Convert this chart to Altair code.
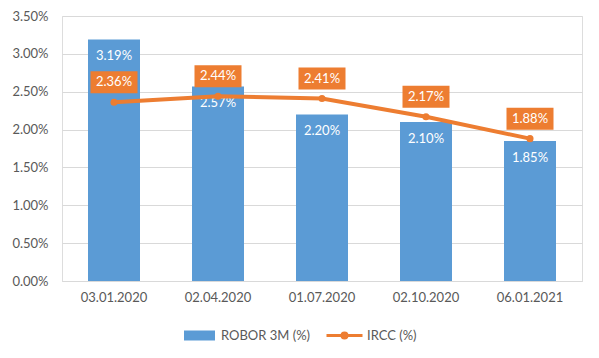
import altair as alt
import pandas as pd

dates = ["03.01.2020", "02.04.2020", "01.07.2020", "02.10.2020", "06.01.2021"]
robor = [3.19, 2.57, 2.20, 2.10, 1.85]
ircc = [2.36, 2.44, 2.41, 2.17, 1.88]
y_ticks = [0, 0.5, 1.0, 1.5, 2.0, 2.5, 3.0, 3.5]

BLUE = "#5B9BD5"
ORANGE = "#ED7D31"
GRAY = "#595959"
FONT = "Lato"

df = pd.DataFrame({
    "date": dates,
    "robor": robor,
    "ircc": ircc,
    "robor_lbl": [f"{v:.2f}%" for v in robor],
    "ircc_lbl": [f"{v:.2f}%" for v in ircc],
    "s1": "ROBOR 3M (%)",
    "s2": "IRCC (%)",
})

xaxis = alt.Axis(labelAngle=0, ticks=False, domain=True, domainColor="#D9D9D9",
                 labelPadding=10, labelColor=GRAY, labelFont=FONT, labelFontSize=13,
                 grid=False, title=None)
xscale = alt.Scale(paddingInner=0.5, paddingOuter=0.25)
xenc = alt.X("date:N", sort=dates, title=None, scale=xscale, axis=xaxis)
yscale = alt.Scale(domain=[0, 3.5], nice=False, zero=True)
yaxis = alt.Axis(values=y_ticks, labelExpr="format(datum.value, '.2f') + '%'",
                 ticks=False, domain=False, gridColor="#D9D9D9", labelPadding=14,
                 labelColor=GRAY, labelFont=FONT, labelFontSize=13, title=None,
                 labelOverlap=False, tickCount=8)


def yenc(field):
    return alt.Y(f"{field}:Q", scale=yscale, axis=yaxis, title=None)


base = alt.Chart(df)

bars = base.mark_bar(color=BLUE).encode(
    x=xenc,
    y=yenc("robor"),
    fill=alt.Fill("s1:N", scale=alt.Scale(range=[BLUE]),
                  legend=alt.Legend(title=None, orient="none", legendX=131, legendY=313,
                                    symbolType="M-3.1,-1H3.1V1H-3.1Z", symbolSize=100,
                                    labelFont=FONT, labelFontSize=13, labelColor=GRAY,
                                    labelOffset=15, symbolStrokeWidth=0)),
)

bar_text = base.mark_text(color="white", font=FONT, fontSize=13, dy=17, baseline="middle").encode(
    x=xenc,
    y=yenc("robor"),
    text="robor_lbl:N",
)

line = base.mark_line(strokeWidth=4, color=ORANGE).encode(
    x=xenc,
    y=yenc("ircc"),
    stroke=alt.Stroke("s2:N", scale=alt.Scale(range=[ORANGE]),
                      legend=alt.Legend(title=None, orient="none", legendX=276, legendY=313,
                                        symbolType="M-3.6,0H3.6M0.5,0A0.5,0.5 0 1,1 -0.5,0A0.5,0.5 0 1,1 0.5,0",
                                        symbolSize=100, symbolStrokeWidth=3,
                                        labelFont=FONT, labelFontSize=13, labelColor=GRAY,
                                        labelOffset=16)),
)

pts = base.mark_point(filled=True, size=50, color=ORANGE, opacity=1).encode(
    x=xenc,
    y=yenc("ircc"),
)

boxes = base.mark_point(filled=True, shape="M-2.35,-1.1H2.35V1.1H-2.35Z", size=400,
                        color=ORANGE, opacity=1, yOffset=-20).encode(
    x=xenc,
    y=yenc("ircc"),
)

line_text = base.mark_text(color="white", font=FONT, fontSize=13, dy=-20, baseline="middle").encode(
    x=xenc,
    y=yenc("ircc"),
    text="ircc_lbl:N",
)

chart = alt.layer(bars, bar_text, line, pts, boxes, line_text).resolve_scale(
    fill="independent", stroke="independent"
).properties(
    width=520, height=265,
    autosize=alt.AutoSizeParams(type="none"),
    padding={"left": 54, "top": 8, "right": 9, "bottom": 69},
).configure_view(stroke=None).configure(background="white")

chart.save("out.html", embed_options={"renderer": "svg", "actions": False})
